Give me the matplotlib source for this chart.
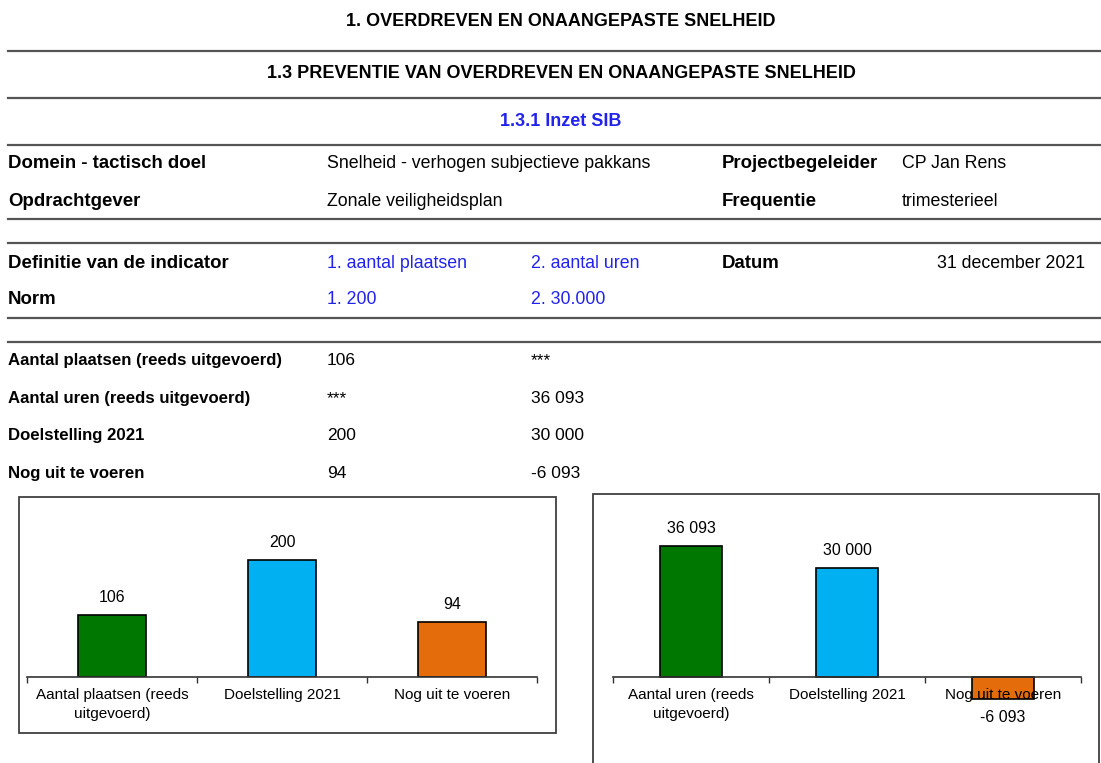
import matplotlib
matplotlib.use('Agg')
import matplotlib.pyplot as plt
from matplotlib.lines import Line2D
from matplotlib.patches import Rectangle

plt.rcParams['font.family'] = ['Liberation Sans', 'DejaVu Sans']

# data
cats_places = ['Aantal plaatsen (reeds\nuitgevoerd)', 'Doelstelling 2021', 'Nog uit te voeren']
vals_places = [106, 200, 94]
cats_hours = ['Aantal uren (reeds\nuitgevoerd)', 'Doelstelling 2021', 'Nog uit te voeren']
vals_hours = [36093, 30000, -6093]
bar_colors = ['#007800', '#00B0F0', '#E46C0A']

table_rows = [
    ('Aantal plaatsen (reeds uitgevoerd)', '106', '***'),
    ('Aantal uren (reeds uitgevoerd)', '***', '36 093'),
    ('Doelstelling 2021', '200', '30 000'),
    ('Nog uit te voeren', '94', '-6 093'),
]

W, H = 1101, 763
fig = plt.figure(figsize=(W / 100, H / 100), dpi=100)
blue = '#2222EE'
linec = '#555555'


def fx(x):
    return x / W


def fy(y):
    return 1 - y / H


def txt(x, y, s, size=12.8, bold=False, color='black', ha='left'):
    fig.text(fx(x), fy(y), s, fontsize=size, fontweight='bold' if bold else 'normal',
             color=color, ha=ha, va='center')


def hline(y):
    fig.add_artist(Line2D([fx(8), fx(W)], [fy(y), fy(y)], color=linec, lw=1.6))


# header
txt(561, 22, '1. OVERDREVEN EN ONAANGEPASTE SNELHEID', 13, True, ha='center')
hline(51)
txt(561, 74, '1.3 PREVENTIE VAN OVERDREVEN EN ONAANGEPASTE SNELHEID', 13, True, ha='center')
hline(98)
txt(561, 121, '1.3.1 Inzet SIB', 13, True, color=blue, ha='center')
hline(145)

txt(8, 164, 'Domein - tactisch doel', 13.4, True)
txt(327, 164, 'Snelheid - verhogen subjectieve pakkans', 12.8)
txt(722, 164, 'Projectbegeleider', 13.4, True)
txt(902, 164, 'CP Jan Rens', 12.8)
txt(8, 201, 'Opdrachtgever', 13.4, True)
txt(327, 201, 'Zonale veiligheidsplan', 12.8)
txt(722, 201, 'Frequentie', 13.4, True)
txt(902, 201, 'trimesterieel', 12.8)
hline(219)
hline(243)
txt(8, 263, 'Definitie van de indicator', 13.4, True)
txt(327, 263, '1. aantal plaatsen', 12.8, color=blue)
txt(531, 263, '2. aantal uren', 12.8, color=blue)
txt(722, 263, 'Datum', 13.4, True)
txt(1085, 263, '31 december 2021', 12.8, ha='right')
txt(8, 299, 'Norm', 13.4, True)
txt(327, 299, '1. 200', 12.8, color=blue)
txt(531, 299, '2. 30.000', 12.8, color=blue)
hline(318)
hline(342)

for i, (lab, a, b) in enumerate(table_rows):
    y = 361 + i * 37.4
    txt(8, y, lab, 12.1, True)
    txt(327, y, a, 12.5)
    txt(531, y, b, 12.5)

# chart frames
fig.add_artist(Rectangle((fx(19), fy(733)), fx(556) - fx(19), fy(497) - fy(733),
                         fill=False, edgecolor='#404040', lw=1.3))
fig.add_artist(Rectangle((fx(593), fy(770)), fx(1099) - fx(593), fy(494) - fy(770),
                         fill=False, edgecolor='#404040', lw=1.3))


def fmt(v):
    return '{:,}'.format(v).replace(',', ' ')


def bar_chart(x0, x1, ytop, ybot, ymin, ymax, cats, vals):
    ax = fig.add_axes([fx(x0), fy(ybot), fx(x1) - fx(x0), fy(ytop) - fy(ybot)])
    xs = range(len(vals))
    ax.bar(xs, vals, width=0.4, color=bar_colors, edgecolor='black', linewidth=1.2, zorder=2)
    ax.set_axisbelow(False)  # labels drawn over the bars, like the original
    ax.set_xlim(-0.5, len(vals) - 0.5)
    ax.set_ylim(ymin, ymax)
    for s in ['top', 'left', 'right']:
        ax.spines[s].set_visible(False)
    ax.spines['bottom'].set_position(('data', 0))
    ax.spines['bottom'].set_color('#333333')
    ax.spines['bottom'].set_linewidth(1.2)
    ax.set_yticks([])
    ax.set_xticks(list(xs))
    ax.set_xticklabels(cats, fontsize=11, linespacing=1.4)
    ax.tick_params(axis='x', which='major', length=0, pad=8)
    ax.set_xticks([i - 0.5 for i in range(len(vals) + 1)], minor=True)
    ax.tick_params(axis='x', which='minor', length=4, width=1, color='#333333', direction='out')
    ax.patch.set_alpha(0)
    for i, v in enumerate(vals):
        if v >= 0:
            ax.annotate(fmt(v), (i, v), xytext=(0, 7), textcoords='offset points',
                        ha='center', va='bottom', fontsize=11.5)
        else:
            ax.annotate(fmt(v), (i, v), xytext=(0, -8), textcoords='offset points',
                        ha='center', va='top', fontsize=11.5)
    return ax


# left chart: baseline at pixel 677, 200 -> 117 px
s1 = 117 / 200
bar_chart(27, 537, 510, 677, 0, (677 - 510) / s1, cats_places, vals_places)

# right chart: 36093 -> 131 px
s2 = 131 / 36093
bar_chart(613, 1081, 505, 745, -(745 - 677) / s2, (677 - 505) / s2, cats_hours, vals_hours)

fig.savefig('out.png', dpi=100)
